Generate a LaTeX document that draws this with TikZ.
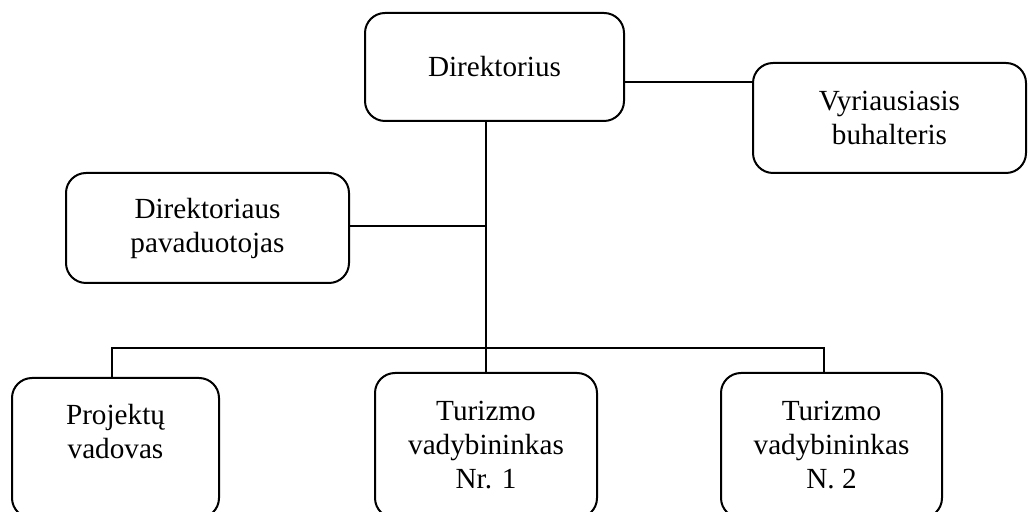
\documentclass[tikz,border=0pt]{standalone}
\usepackage{fontspec}
\setmainfont{Liberation Serif}
\begin{document}
\begin{tikzpicture}[x=0.5pt,y=-0.5pt,
  box/.style={draw, line width=1pt, rounded corners=10pt, align=center, inner sep=0pt,
    font=\fontsize{14.6}{17}\selectfont},
  conn/.style={line width=1pt}]
\useasboundingbox (0,0) rectangle (1028,512);
\clip (0,0) rectangle (1028,512);
\node[box, minimum width=129.5pt, minimum height=54pt] (dir) at (494.5,67) {Direktorius};
\node[box, minimum width=136.5pt, minimum height=55pt] (vb) at (889.5,118) {Vyriausiasis\\buhalteris};
\node[box, minimum width=141.5pt, minimum height=55pt] (pav) at (207.5,228) {Direktoriaus\\pavaduotojas};
\node[box, minimum width=103.5pt, minimum height=70pt] (pv) at (115.5,448) {Projektų\\vadovas\\\mbox{}};
\node[box, minimum width=111pt, minimum height=72.5pt] (t1) at (486,445.5) {Turizmo\\vadybininkas\\Nr. 1};
\node[box, minimum width=110.5pt, minimum height=72.5pt] (n2) at (831.5,445.5) {Turizmo\\vadybininkas\\N. 2};
\coordinate (hb) at (700,82);
\coordinate (hp) at (400,226);
\coordinate (busL) at (112,348);
\coordinate (busR) at (824,348);
\draw[conn] (hb -| dir.east) -- (hb -| vb.west);
\draw[conn] (t1.north |- dir.south) -- (t1.north);
\draw[conn] (hp -| pav.east) -- (hp -| t1.north);
\draw[conn] (busL |- pv.north) -- (busL) -- (busR) -- (busR |- n2.north);
\end{tikzpicture}
\end{document}
